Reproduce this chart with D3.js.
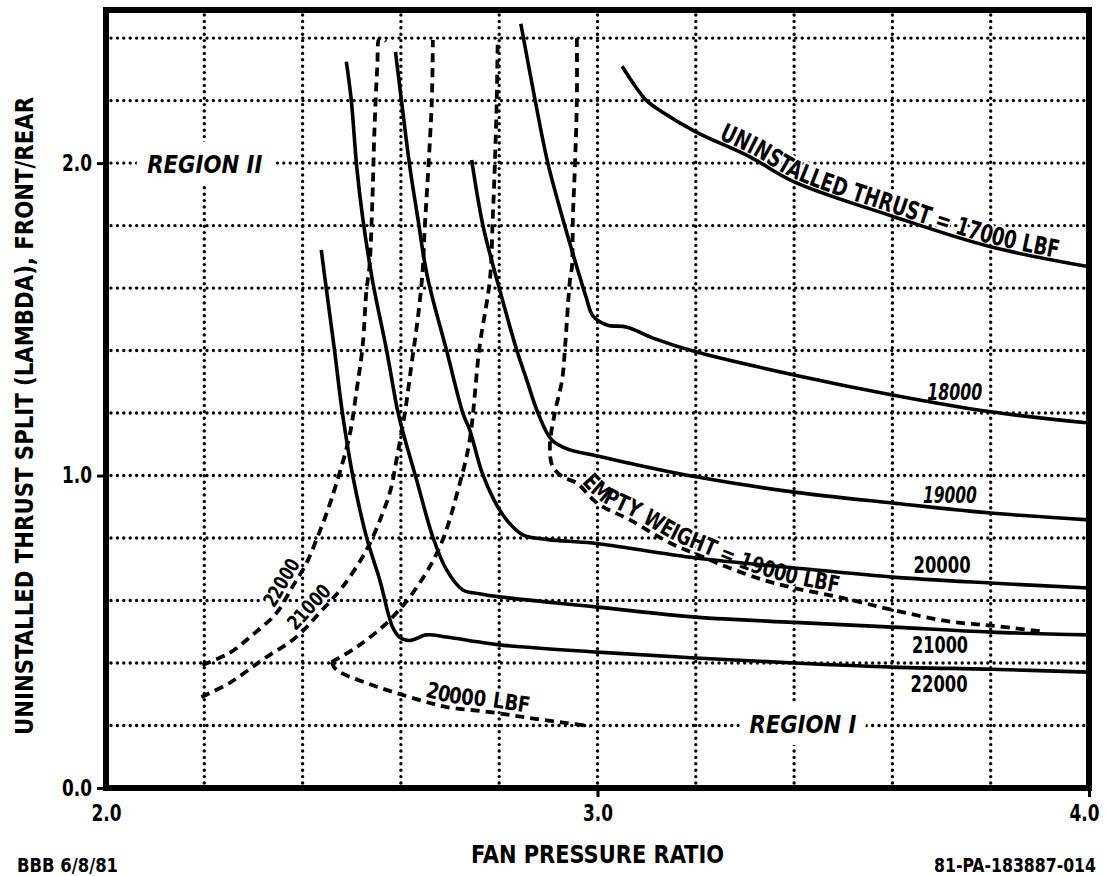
<!DOCTYPE html>
<html>
<head>
<meta charset="utf-8">
<script src="https://cdn.jsdelivr.net/npm/d3@7"></script>
<style>
  body { margin: 0; background: #fff; }
  svg text {
    font-family: "Liberation Sans Narrow", "DejaVu Sans Condensed", "Roboto Condensed", "Liberation Sans", sans-serif;
    font-weight: bold;
    font-stretch: condensed;
    fill: #000;
  }
</style>
</head>
<body>
<svg id="chart" width="1106" height="876"></svg>
<script>
// axis ranges and ticks
const fprDomain = [2.0, 4.0];
const lambdaDomain = [0.0, 2.49];
const xTickValues = [2.0, 3.0, 4.0];
const yTickValues = [0.0, 1.0, 2.0];
const xGridValues = [2.2, 2.4, 2.6, 2.8, 3.0, 3.2, 3.4, 3.6, 3.8];
const yGridValues = [0.2, 0.4, 0.6, 0.8, 1.0, 1.2, 1.4, 1.6, 1.8, 2.0, 2.2, 2.4];

// uninstalled thrust lines (solid), [fan pressure ratio, lambda]
const thrust17000 = [[3.05,2.31],[3.075,2.25],[3.10,2.20],[3.13,2.165],[3.2,2.10],[3.31,2.02],[3.4,1.94],[3.6,1.83],[3.8,1.732],[4.0,1.668]];
const thrust18000 = [[2.844,2.446],[2.873,2.202],[2.899,2.0],[2.934,1.796],[2.964,1.636],[2.977,1.57],[2.991,1.51],[3.019,1.482],[3.06,1.475],[3.113,1.44],[3.2,1.396],[3.4,1.322],[3.6,1.258],[3.8,1.204],[4.0,1.168]];
const thrust19000 = [[2.744,2.01],[2.767,1.80],[2.80,1.60],[2.836,1.40],[2.856,1.306],[2.879,1.20],[2.907,1.114],[2.944,1.082],[2.991,1.066],[3.081,1.034],[3.2,0.996],[3.4,0.947],[3.6,0.912],[3.8,0.88],[4.0,0.858]];
const thrust20000 = [[2.589,2.356],[2.601,2.202],[2.618,1.99],[2.634,1.828],[2.654,1.636],[2.693,1.40],[2.726,1.20],[2.74,1.146],[2.765,1.01],[2.79,0.92],[2.815,0.858],[2.848,0.81],[2.9,0.795],[2.99,0.784],[3.2,0.736],[3.43,0.70],[3.6,0.675],[3.8,0.656],[4.0,0.64]];
const thrust21000 = [[2.489,2.324],[2.499,2.202],[2.51,1.99],[2.522,1.828],[2.542,1.626],[2.571,1.40],[2.593,1.21],[2.603,1.146],[2.632,0.986],[2.665,0.803],[2.693,0.698],[2.726,0.634],[2.76,0.622],[2.8,0.612],[3.0,0.579],[3.2,0.547],[3.4,0.53],[3.6,0.515],[3.8,0.499],[4.0,0.49]];
const thrust22000 = [[2.438,1.722],[2.445,1.636],[2.465,1.40],[2.481,1.20],[2.502,1.0],[2.53,0.803],[2.557,0.666],[2.583,0.515],[2.597,0.483],[2.618,0.472],[2.652,0.49],[2.693,0.483],[2.76,0.467],[2.8,0.458],[3.0,0.435],[3.2,0.416],[3.4,0.40],[3.6,0.387],[3.8,0.38],[4.0,0.371]];

// empty weight lines (dashed)
const empty22000 = [[2.196,0.394],[2.251,0.432],[2.298,0.49],[2.347,0.56],[2.379,0.643],[2.408,0.72],[2.428,0.794],[2.449,0.88],[2.469,0.976],[2.495,1.124],[2.51,1.274],[2.522,1.412],[2.53,1.594],[2.536,1.668],[2.542,1.882],[2.546,2.097],[2.552,2.308],[2.557,2.40],[2.57,2.39]];
const empty21000 = [[2.194,0.291],[2.251,0.336],[2.318,0.41],[2.387,0.483],[2.434,0.56],[2.481,0.643],[2.53,0.762],[2.563,0.88],[2.58,0.96],[2.591,1.05],[2.608,1.2],[2.622,1.36],[2.634,1.498],[2.644,1.65],[2.648,1.777],[2.656,1.988],[2.663,2.202],[2.665,2.394]];
const empty20000Upper = [[2.459,0.403],[2.51,0.451],[2.571,0.528],[2.624,0.624],[2.679,0.771],[2.72,0.976],[2.74,1.114],[2.76,1.412],[2.781,1.626],[2.787,1.828],[2.791,1.988],[2.795,2.202],[2.797,2.40]];
const empty20000Lower = [[2.459,0.403],[2.469,0.378],[2.53,0.336],[2.591,0.304],[2.659,0.272],[2.693,0.259],[2.781,0.243],[2.862,0.224],[2.938,0.208],[2.985,0.198]];
const empty19000 = [[2.958,2.40],[2.958,2.202],[2.954,1.988],[2.95,1.828],[2.948,1.668],[2.944,1.626],[2.934,1.412],[2.928,1.306],[2.913,1.20],[2.903,1.092],[2.909,1.028],[2.93,0.995],[2.958,0.976],[2.999,0.912],[3.066,0.858],[3.148,0.784],[3.215,0.739],[3.264,0.707],[3.337,0.666],[3.40,0.64],[3.50,0.608],[3.60,0.57],[3.72,0.532],[3.80,0.52],[3.91,0.50]];

const solidCurves = [thrust17000, thrust18000, thrust19000, thrust20000, thrust21000, thrust22000];
const dashedCurves = [empty22000, empty21000, empty20000Upper, empty20000Lower, empty19000];

const svg = d3.select('#chart');

const x = d3.scaleLinear().domain(fprDomain).range([106, 1089]);
const y = d3.scaleLinear().domain(lambdaDomain).range([788, 10]);

const line = d3.line()
    .x(d => x(d[0]))
    .y(d => y(d[1]))
    .curve(d3.curveCatmullRom.alpha(0.5));

// dotted grid
const grid = svg.append('g');
grid.selectAll('.gx')
    .data(xGridValues)
    .enter().append('line')
    .attr('x1', d => x(d)).attr('x2', d => x(d))
    .attr('y1', y(lambdaDomain[1]) + 5).attr('y2', y(0) - 4);
grid.selectAll('.gy')
    .data(yGridValues)
    .enter().append('line')
    .attr('y1', d => y(d)).attr('y2', d => y(d))
    .attr('x1', x(2) + 5).attr('x2', x(4) - 5);
grid.selectAll('line')
    .attr('stroke', '#000')
    .attr('stroke-width', 3.4)
    .attr('stroke-linecap', 'round')
    .attr('stroke-dasharray', '0,6.4');

const haloLayer = svg.append('g');
const curveLayer = svg.append('g');
const textLayer = svg.append('g');

curveLayer.selectAll('.solid')
    .data(solidCurves)
    .enter().append('path')
    .attr('d', line)
    .attr('fill', 'none')
    .attr('stroke', '#000')
    .attr('stroke-width', 3.6)
    .attr('stroke-linejoin', 'round');

curveLayer.selectAll('.dashed')
    .data(dashedCurves)
    .enter().append('path')
    .attr('d', line)
    .attr('fill', 'none')
    .attr('stroke', '#000')
    .attr('stroke-width', 3.8)
    .attr('stroke-dasharray', '9,6');

// labels: white halo underneath the curves, black text on top
function addText(layerFn, attrs) {
    [haloLayer, textLayer].forEach((layer, i) => {
        const t = layerFn(layer);
        if (i === 0) {
            t.style('fill', '#fff').style('stroke', '#fff').style('stroke-width', attrs.halo || 6);
        }
    });
}

function label(fpr, lambda, text, size, len, italic, halo) {
    addText(layer => layer.append('text')
        .attr('x', x(fpr))
        .attr('y', y(lambda))
        .attr('text-anchor', 'middle')
        .attr('textLength', len)
        .attr('lengthAdjust', 'spacingAndGlyphs')
        .style('font-size', size + 'px')
        .style('font-style', italic ? 'italic' : 'normal')
        .text(text), { halo: halo });
}

let pathCount = 0;
function labelAlong(points, startFpr, text, size, len, dy, italic) {
    const id = 'lp' + (pathCount++);
    const p = svg.append('path')
        .attr('id', id)
        .attr('d', line(points))
        .attr('fill', 'none')
        .attr('stroke', 'none');
    const node = p.node();
    const total = node.getTotalLength();
    let offset = 0;
    for (let s = 0; s <= total; s += 0.5) {
        if (node.getPointAtLength(s).x >= x(startFpr)) { offset = s; break; }
    }
    addText(layer => {
        const t = layer.append('text')
            .attr('dy', dy)
            .style('font-size', size + 'px')
            .style('font-style', italic ? 'italic' : 'normal');
        t.append('textPath')
            .attr('href', '#' + id)
            .attr('startOffset', offset)
            .attr('textLength', len)
            .attr('lengthAdjust', 'spacingAndGlyphs')
            .text(text);
        return t;
    }, { halo: 5 });
}

label(2.201, 1.968, 'REGION II', 25, 115, true, 26);
label(3.418, 0.176, 'REGION I', 25, 107, true, 24);
label(3.727, 1.242, '18000', 23, 55, true);
label(3.717, 0.912, '19000', 23, 54, true);
label(3.701, 0.688, '20000', 23, 57, false);
label(3.697, 0.432, '21000', 23, 56, false);
label(3.695, 0.307, '22000', 23, 57, false);

labelAlong(thrust17000.slice(4), 3.243, 'UNINSTALLED THRUST = 17000 LBF', 25, 362, -3, false);
labelAlong(empty19000.slice(12), 2.962, 'EMPTY WEIGHT = 19000 LBF', 23, 285, -4, false);
labelAlong(empty20000Lower, 2.645, '20000 LBF', 22, 106, -5, false);
labelAlong(empty22000, 2.35, '22000', 20, 52, -5, false);
labelAlong(empty21000, 2.392, '21000', 20, 54, -5, false);

// frame
svg.append('rect')
    .attr('x', x(2)).attr('y', y(lambdaDomain[1]))
    .attr('width', x(4) - x(2)).attr('height', y(0) - y(lambdaDomain[1]))
    .attr('fill', 'none')
    .attr('stroke', '#000')
    .attr('stroke-width', 6);

// axes
const yAxis = svg.append('g')
    .attr('transform', `translate(${x(2)},0)`)
    .call(d3.axisLeft(y).tickValues(yTickValues).tickSize(9).tickPadding(5).tickFormat(d3.format('.1f')));
const xAxis = svg.append('g')
    .attr('transform', `translate(0,${y(0)})`)
    .call(d3.axisBottom(x).tickValues(xTickValues).tickSize(9).tickPadding(8).tickFormat(d3.format('.1f')));
[xAxis, yAxis].forEach(a => {
    a.attr('font-family', null).attr('font-size', null);
    a.select('.domain').remove();
    a.selectAll('.tick line').attr('stroke-width', 3);
    a.selectAll('.tick text')
        .attr('textLength', 30)
        .attr('lengthAdjust', 'spacingAndGlyphs')
        .style('font-size', '23px');
});
xAxis.selectAll('.tick').filter(d => d === 2).select('line').remove();
xAxis.selectAll('.tick').filter(d => d === 4).select('text').attr('dx', -5);

// titles
svg.append('text')
    .attr('transform', `translate(33,${(y(0) + y(lambdaDomain[1])) / 2 + 17}) rotate(-90)`)
    .attr('text-anchor', 'middle')
    .attr('textLength', 638)
    .attr('lengthAdjust', 'spacingAndGlyphs')
    .style('font-size', '24px')
    .text('UNINSTALLED THRUST SPLIT (LAMBDA), FRONT/REAR');

svg.append('text')
    .attr('x', x(3))
    .attr('y', 863)
    .attr('text-anchor', 'middle')
    .attr('textLength', 253)
    .attr('lengthAdjust', 'spacingAndGlyphs')
    .style('font-size', '25px')
    .text('FAN PRESSURE RATIO');

svg.append('text')
    .attr('x', 17)
    .attr('y', 872)
    .attr('textLength', 101)
    .attr('lengthAdjust', 'spacingAndGlyphs')
    .style('font-size', '19px')
    .text('BBB 6/8/81');

svg.append('text')
    .attr('x', 1096)
    .attr('y', 872)
    .attr('text-anchor', 'end')
    .attr('textLength', 162)
    .attr('lengthAdjust', 'spacingAndGlyphs')
    .style('font-size', '19px')
    .text('81-PA-183887-014');
</script>
</body>
</html>
